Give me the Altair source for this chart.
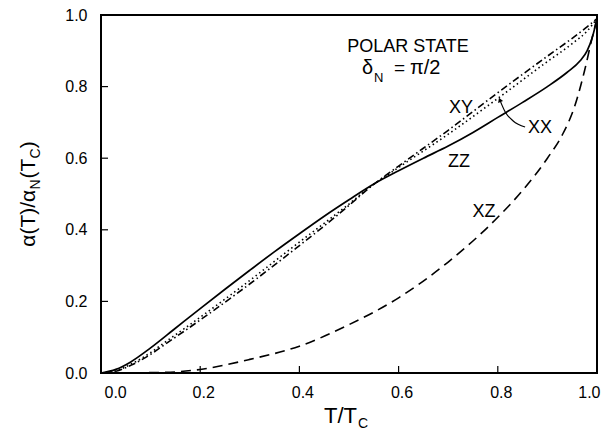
import altair as alt
import pandas as pd

# ---- data ----
T_ZZ = [0, 0.03, 0.06, 0.1, 0.15, 0.2, 0.25, 0.3, 0.35, 0.4, 0.45, 0.5, 0.55, 0.6, 0.65, 0.7,
        0.75, 0.8, 0.85, 0.9, 0.94, 0.966, 0.98, 0.99, 1.0]
V_ZZ = [0, 0.01, 0.031, 0.07, 0.125, 0.18, 0.234, 0.287, 0.339, 0.389, 0.438, 0.484, 0.528, 0.565,
        0.6, 0.634, 0.672, 0.714, 0.756, 0.8, 0.84, 0.872, 0.9, 0.935, 0.99]

T_XX = [0, 0.03, 0.061, 0.1, 0.128, 0.169, 0.27, 0.39, 0.5, 0.54, 0.6, 0.7, 0.8, 0.9, 0.95, 0.98, 1.0]
V_XX = [0, 0.006, 0.025, 0.057, 0.085, 0.125, 0.227, 0.355, 0.472, 0.517, 0.574, 0.667, 0.767, 0.87, 0.92, 0.955, 0.99]

T_XY = [0, 0.03, 0.061, 0.1, 0.128, 0.169, 0.27, 0.39, 0.5, 0.54, 0.6, 0.7, 0.8, 0.9, 0.95, 0.98, 1.0]
V_XY = [0, 0.005, 0.022, 0.052, 0.079, 0.118, 0.218, 0.345, 0.468, 0.516, 0.578, 0.678, 0.783, 0.885, 0.935, 0.967, 0.99]

T_XZ = [0, 0.1, 0.15, 0.2, 0.3, 0.4, 0.5, 0.6, 0.7, 0.8, 0.85, 0.9, 0.93, 0.955, 0.975, 0.99, 1.0]
V_XZ = [0, 0.001, 0.003, 0.01, 0.038, 0.075, 0.135, 0.21, 0.31, 0.435, 0.51, 0.6, 0.665, 0.745,
        0.845, 0.935, 0.99]

# leader line from the "XX" label to the dotted curve
LEAD_T = [0.804, 0.815, 0.831, 0.855]
LEAD_V = [0.763, 0.729, 0.704, 0.687]

X_TICKS = [0.0, 0.2, 0.4, 0.6, 0.8, 1.0]
Y_TICKS = [0.0, 0.2, 0.4, 0.6, 0.8, 1.0]
INNER_TICKS = [0.2, 0.4, 0.6, 0.8]

FONT = "Liberation Sans"
W, H = 496, 358

xs = alt.Scale(domain=[0, 1], nice=False, zero=False)
ys = alt.Scale(domain=[0, 1], nice=False, zero=False)

X = alt.X("T:Q", scale=xs, axis=alt.Axis(values=X_TICKS, format=".1f", ticks=False, tickSize=0,
                                          domain=False, grid=False, title=None, labelFont=FONT,
                                          labelFontSize=16, labelColor="black", labelPadding=11,
                                          labelOffset=3))
Y = alt.Y("v:Q", scale=ys, axis=alt.Axis(values=Y_TICKS, format=".1f", ticks=False, tickSize=0,
                                          domain=False, grid=False, title=None, labelFont=FONT,
                                          labelFontSize=16, labelColor="black", labelPadding=14))


def curve(T, V, dash, width=1.6):
    df = pd.DataFrame({"T": T, "v": V})
    kw = dict(color="black", strokeWidth=width, interpolate="monotone")
    if dash:
        kw["strokeDash"] = dash
    return alt.Chart(df).mark_line(**kw).encode(x=X, y=Y)


one = pd.DataFrame({"a": [0]})


def label(text, x, y, size=18, align="left", baseline="alphabetic", angle=0):
    return alt.Chart(one).mark_text(text=text, font=FONT, fontSize=size, align=align,
                                    baseline=baseline, angle=angle, color="black").encode(
        x=alt.value(x), y=alt.value(y))


zz = curve(T_ZZ, V_ZZ, None, 1.7)
xx = curve(T_XX, V_XX, [1.5, 3])
xy = curve(T_XY, V_XY, [7, 3, 1.5, 3])
xz = curve(T_XZ, V_XZ, [10, 6])

lead = alt.Chart(pd.DataFrame({"T": LEAD_T, "v": LEAD_V})).mark_line(
    color="black", strokeWidth=1.2, interpolate="monotone").encode(x=X, y=Y)
head = alt.Chart(pd.DataFrame({"T": LEAD_T[:1], "v": LEAD_V[:1]})).mark_point(
    shape="triangle-up", filled=True, color="black", size=28, angle=340, opacity=1).encode(x=X, y=Y)

xticks = alt.Chart(pd.DataFrame({"T": INNER_TICKS})).mark_rule(color="black", strokeWidth=1.2).encode(
    x=X, y=alt.value(H), y2=alt.value(H - 7))
yticks = alt.Chart(pd.DataFrame({"v": INNER_TICKS})).mark_rule(color="black", strokeWidth=1.2).encode(
    y=Y, x=alt.value(0), x2=alt.value(7))

texts = [
    label("POLAR STATE", 307, 36.5, 18, align="center"),
    label("δ", 261, 58.5, 20),
    label("N", 273, 66.5, 13),
    label("=", 293, 58.5, 19),
    label("π/2", 309, 58.5, 20),
    label("XY", 360, 98.3, 18, align="center"),
    label("XX", 439, 118.3, 18, align="center"),
    label("ZZ", 358, 151.7, 18, align="center"),
    label("XZ", 383, 201.7, 18, align="center"),
    # x-axis title T/T_C
    label("T/T", 256, 408, 22, align="right"),
    label("C", 257, 413, 14),
    # y-axis title  α(T)/α_N(T_C), rotated
    label("α(T)/α", -66, 231.7, 21, angle=270),
    label("N", -61, 174.5, 14, angle=270),
    label("(T", -66, 163.5, 21, angle=270),
    label("C", -61, 143.5, 14, angle=270),
    label(")", -66, 133.3, 21, angle=270),
]

chart = alt.layer(zz, xx, xy, xz, lead, head, xticks, yticks, *texts).properties(
    width=W, height=H,
    padding={"left": 101, "top": 15, "right": 17, "bottom": 57},
    autosize=alt.AutoSizeParams(type="none"),
    background="white",
).configure_view(stroke="black", strokeWidth=2)

chart.save("out.html", embed_options={"renderer": "svg", "actions": False})
